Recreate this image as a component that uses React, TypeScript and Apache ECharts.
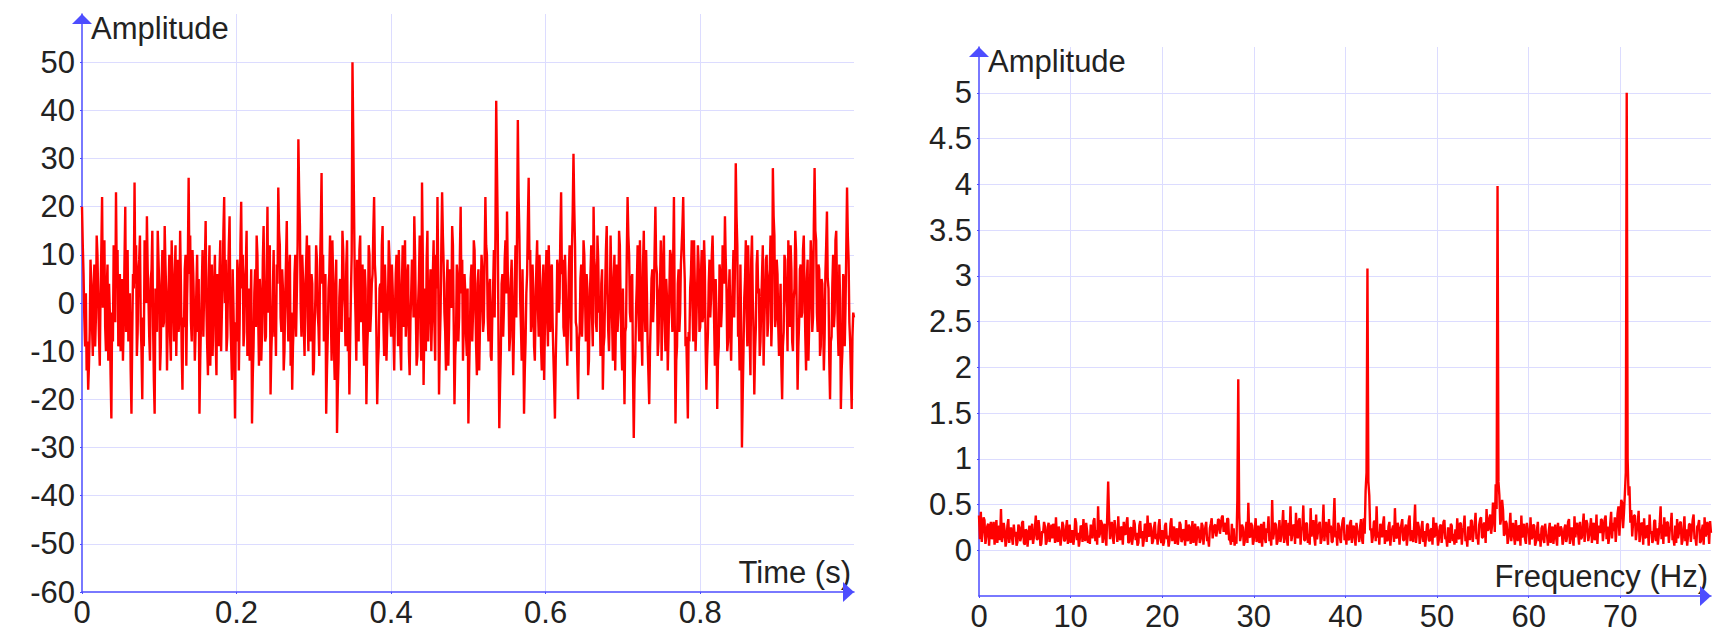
import React, { useEffect, useRef } from "react";
import * as echarts from "echarts";

// ---- data ----
const TIME_STEP = 0.001; // s between samples
const FREQ_STEP = 0.1; // Hz between spectrum bins
const TIME_MAX = 0.999;
const FREQ_MAX = 79.9;
const amplitudeName = "Amplitude";
const timeAxisName = "Time (s)";
const freqAxisName = "Frequency (Hz)";

// time-domain signal (one value per TIME_STEP, 50 values = 0.05 s per row)
const signalValues = [
  20, 12, 6, -3, -9, 2, -14, -8, -18, -13, -6, 9, 4, -5, -11, 3, 8, -9, -3, 14, 10, 1, -7, -13, 2, 11, 22, -1, 9, 13, -5, -10, 3, 8, -12, 4, -2, -15, -24, -2, -8, 12, 7, -4, 23, 5, 11, -9, -4, 6,
  -10, -1, 5, -12, -3, 9, 20, -6, 4, 11, -8, -2, 2, -14, -23, -7, 6, 3, 25, 4, 12, -11, -6, 7, 9, 14, -4, -10, -20, -3, -9, 13, 8, 0, 18, 7, 1, -7, -12, 5, 7, 15, -5, -16, -23, 3, -2, -6, 15, 9,
  3, -14, -9, 4, 11, -5, -4, 16, 8, 2, -14, -4, 2, 10, -7, -12, 13, 5, -1, -8, 6, 12, -11, -1, 9, -6, -3, 15, 4, -10, -18, -3, -5, 7, 10, -13, 1, 9, 26, 6, 14, -4, -8, 11, 6, -2, -12, -6, 3, 10,
  -6, 5, -23, -12, -4, 3, 11, -7, 2, 8, 17, -1, -9, -15, 5, 12, -13, -4, 8, -11, -2, 4, 10, -8, -15, 6, 0, -9, 7, 13, -10, -2, 4, 15, 22, 0, 9, -10, -7, 4, 12, 18, -3, -9, -16, 7, -1, -11, -24, -4,
  -8, 9, 6, -14, -4, 12, 21, 3, 10, -9, -6, 5, 8, 15, -11, -3, 3, -12, -2, 7, -25, -15, -9, 2, 7, -5, 14, 10, -3, -13, 5, 1, -12, -6, 9, 16, 1, -8, -7, 6, 20, -2, 4, 12, -19, -10, -5, 3, 11, -7,
  -2, -11, 8, 4, 24, 15, 12, -3, -6, 7, 3, -14, -10, 1, 9, 17, -1, -8, 6, 10, -13, -2, -18, -9, -4, 6, 10, -7, 2, 12, 34, 23, 16, -1, -7, 10, 5, -5, -11, 3, 8, 14, -3, -10, 12, 0, -8, 6, 4, -15,
  -14, -5, 1, 12, 9, -2, -5, -11, 7, 16, 27, 4, 10, -8, -4, 6, -23, -14, -7, 3, 6, 14, -2, -12, 13, 5, -9, -16, 3, 9, -27, -18, -12, 1, 5, -4, -6, 15, 11, 2, -1, -9, 8, 13, -10, -3, -19, -8, 2, 10,
  50, 35, 20, 4, -3, -12, 9, 2, -8, 11, 14, -4, 1, 8, -6, -13, 7, 3, -21, -10, -5, 12, 10, -6, -2, 4, 6, 15, 22, 8, 5, -7, -21, -13, -9, 3, 4, -2, 12, 16, -4, -11, 8, 2, -12, -5, 0, 13, 9, -3,
  -7, 8, 3, -6, -14, -2, 6, 10, -1, -9, 11, 3, -9, -14, 4, 12, -5, 1, 13, -7, -3, 6, 8, -10, -15, -4, 2, 9, 7, -3, 18, 10, -2, -13, -11, 0, 5, 14, -6, -12, 25, 10, -17, -6, 3, -10, 9, 15, -8, -1,
  1, 7, -10, -3, 6, 13, -4, -12, 10, 3, 22, 5, -19, -9, -2, 12, 23, 14, 8, -2, -6, -14, 4, 9, -13, -5, 7, 1, -1, 16, 12, -4, -21, -11, -7, 8, 5, -8, -3, 10, 20, 2, 9, -12, -5, 6, 2, -7, -11, 3,
  -25, -14, -6, 5, 8, -8, -2, 13, 11, 0, -9, -15, 4, 7, -14, -5, 1, 10, 7, -6, -4, 9, 22, 12, 10, -3, -8, 3, 5, -11, -12, -2, 3, 11, -3, 14, 42, 28, 15, -8, -26, -17, -10, 4, 6, -7, -1, 9, 13, 2,
  19, 6, 2, -10, -7, 5, 9, -3, -15, -6, 4, 12, -3, 15, 38, 22, 14, 1, -5, -12, 7, -4, -23, -14, -8, 2, 6, 17, 26, 9, 11, -6, -4, 8, 3, -9, -12, -1, 8, 13, -1, -7, 10, 4, -9, -14, 2, 8, -16, -5,
  5, 11, -3, -9, 12, 3, -6, 7, 8, -4, -11, -17, -24, -12, -4, 9, 7, -2, 1, 14, 23, 6, 9, -5, -7, 10, 4, -8, -13, -3, 6, 12, -2, -10, 11, 19, 31, 20, 12, -4, -5, -13, -20, -8, -6, 5, 8, -7, -1, 13,
  10, 1, -8, 6, 3, -15, -12, 0, 6, 12, -3, -9, 20, 9, 7, -4, -6, 14, 9, -2, -1, -11, 4, 7, -18, -9, -7, 3, 11, 16, 2, -6, -10, -1, 14, 5, -4, -12, 5, 10, -14, -3, 8, -6, -2, 15, 12, 0, -9, -14,
  3, -9, -21, -6, -5, 10, 22, 14, 10, -2, -4, 5, 6, -14, -28, -16, -11, -1, 4, 12, -2, -8, 13, 3, -7, -13, 8, 15, -1, -6, 11, 2, -9, -15, -21, -10, -3, 5, 7, -4, 1, 11, 20, 8, 6, -11, -8, 2, 4, 13,
  -12, -3, 9, 14, -3, -10, 5, 1, -14, -7, 2, 11, 10, -1, -6, 9, 22, -3, -25, -12, -9, 4, 7, -6, -2, 8, 12, 16, 22, 10, 5, -9, -7, -15, -24, -6, -8, 3, 6, 13, -1, -8, 13, 4, -10, -4, 3, 12, 8, -6,
  -5, 6, 11, -4, -2, 13, 7, -9, -18, -11, -6, 4, 9, -3, 1, 10, 14, 5, -4, -13, 5, -2, -22, -12, -9, 8, 6, -5, -1, 12, 10, 4, 18, 9, 3, -10, -8, 2, 7, -6, -12, -2, 4, 11, -3, 8, 29, 18, 12, -7,
  -4, -14, 8, -6, -30, -19, -10, 1, 5, 13, -2, -9, 12, 4, -7, -15, 9, 14, 1, -6, -19, -10, -5, 8, 11, 2, 3, -11, -8, 0, 6, 12, -13, -4, 2, 9, 10, -7, -4, 5, 7, 14, -9, -3, 28, 18, 14, -5, -3, 9,
  6, -5, -11, -2, 4, -13, -20, -9, -6, 10, 9, 2, -1, -10, 13, 6, -5, 12, 7, -8, -10, 1, 3, 15, 11, -4, -18, -9, -4, 7, 8, -3, -2, 11, 14, 3, -7, -14, 5, 9, -12, -5, 2, 13, 9, -6, -3, 16, 28, 15,
  13, -2, -6, 8, 7, -11, -9, 5, 4, -3, -14, -7, 6, 12, 19, 5, 3, -12, -20, -8, -7, 4, 10, -5, -2, 13, 15, 3, -5, -11, 8, 1, -22, -14, -10, 6, 5, -9, -1, 11, 24, 14, 9, -4, -8, -15, -22, -7, -2, -3,
];

// amplitude spectrum (one value per FREQ_STEP, 40 values = 4 Hz per row)
const spectrumValues = [
  0.38, 0.12, 0.42, 0.09, 0.21, 0.36, 0.33, 0.07, 0.15, 0.26, 0.29, 0.05, 0.24, 0.31, 0.12, 0.22, 0.31, 0.06, 0.19, 0.33, 0.08, 0.20, 0.27, 0.11, 0.45, 0.09, 0.16, 0.30, 0.22, 0.04, 0.10, 0.27, 0.34, 0.08, 0.18, 0.25, 0.13, 0.06, 0.28, 0.15,
  0.20, 0.05, 0.09, 0.28, 0.25, 0.10, 0.14, 0.30, 0.32, 0.08, 0.06, 0.23, 0.21, 0.04, 0.17, 0.27, 0.11, 0.19, 0.29, 0.07, 0.15, 0.24, 0.38, 0.12, 0.12, 0.33, 0.23, 0.05, 0.07, 0.21, 0.19, 0.31, 0.26, 0.06, 0.10, 0.25, 0.30, 0.09, 0.16, 0.28,
  0.13, 0.29, 0.24, 0.08, 0.36, 0.14, 0.09, 0.26, 0.20, 0.05, 0.15, 0.31, 0.27, 0.10, 0.11, 0.24, 0.33, 0.07, 0.18, 0.28, 0.08, 0.17, 0.22, 0.06, 0.14, 0.35, 0.30, 0.11, 0.19, 0.04, 0.12, 0.27, 0.25, 0.09, 0.34, 0.16, 0.10, 0.30, 0.21, 0.08,
  0.16, 0.07, 0.28, 0.19, 0.13, 0.32, 0.35, 0.10, 0.22, 0.06, 0.48, 0.14, 0.18, 0.33, 0.30, 0.08, 0.24, 0.29, 0.12, 0.05, 0.39, 0.75, 0.36, 0.12, 0.26, 0.31, 0.14, 0.07, 0.33, 0.22, 0.20, 0.09, 0.37, 0.15, 0.11, 0.26, 0.23, 0.06, 0.31, 0.18,
  0.17, 0.30, 0.36, 0.08, 0.09, 0.24, 0.25, 0.06, 0.14, 0.33, 0.29, 0.11, 0.19, 0.05, 0.08, 0.27, 0.32, 0.13, 0.21, 0.04, 0.12, 0.29, 0.27, 0.09, 0.38, 0.16, 0.15, 0.30, 0.23, 0.07, 0.10, 0.25, 0.31, 0.12, 0.18, 0.06, 0.26, 0.34, 0.13, 0.08,
  0.22, 0.05, 0.09, 0.27, 0.30, 0.12, 0.16, 0.04, 0.11, 0.29, 0.35, 0.10, 0.19, 0.26, 0.07, 0.18, 0.24, 0.06, 0.14, 0.31, 0.28, 0.09, 0.12, 0.23, 0.20, 0.05, 0.33, 0.14, 0.10, 0.28, 0.25, 0.07, 0.17, 0.32, 0.08, 0.19, 0.29, 0.05, 0.15, 0.26,
  0.21, 0.08, 0.12, 0.30, 0.27, 0.06, 0.18, 0.25, 0.31, 0.10, 0.14, 0.04, 0.24, 0.29, 0.35, 0.13, 0.19, 0.27, 0.28, 0.15, 0.22, 0.34, 0.33, 0.18, 0.26, 0.36, 0.38, 0.20, 0.30, 0.24, 0.17, 0.35, 0.34, 0.11, 0.12, 0.06, 0.29, 0.09, 0.24, 0.05,
  0.13, 0.07, 0.55, 1.87, 0.42, 0.10, 0.16, 0.28, 0.25, 0.05, 0.09, 0.22, 0.31, 0.08, 0.52, 0.15, 0.14, 0.30, 0.27, 0.06, 0.11, 0.24, 0.35, 0.09, 0.18, 0.27, 0.08, 0.14, 0.29, 0.04, 0.20, 0.31, 0.13, 0.08, 0.24, 0.19, 0.37, 0.10, 0.16, 0.05,
  0.55, 0.12, 0.19, 0.30, 0.28, 0.06, 0.10, 0.23, 0.33, 0.09, 0.15, 0.27, 0.44, 0.08, 0.21, 0.33, 0.12, 0.05, 0.30, 0.16, 0.48, 0.10, 0.17, 0.28, 0.26, 0.07, 0.41, 0.18, 0.13, 0.32, 0.35, 0.06, 0.22, 0.25, 0.49, 0.11, 0.11, 0.30, 0.29, 0.08,
  0.18, 0.06, 0.46, 0.15, 0.24, 0.33, 0.14, 0.05, 0.39, 0.12, 0.20, 0.28, 0.31, 0.07, 0.12, 0.24, 0.50, 0.10, 0.23, 0.31, 0.16, 0.06, 0.34, 0.19, 0.27, 0.09, 0.09, 0.30, 0.57, 0.14, 0.21, 0.05, 0.30, 0.26, 0.13, 0.08, 0.25, 0.33, 0.36, 0.11,
  0.17, 0.06, 0.28, 0.13, 0.11, 0.30, 0.33, 0.08, 0.22, 0.27, 0.14, 0.05, 0.30, 0.21, 0.19, 0.09, 0.26, 0.34, 0.12, 0.07, 0.35, 0.18, 0.65, 0.85, 3.08, 0.75, 0.60, 0.22, 0.24, 0.08, 0.15, 0.31, 0.32, 0.10, 0.48, 0.14, 0.20, 0.06, 0.29, 0.25,
  0.14, 0.29, 0.37, 0.07, 0.22, 0.12, 0.10, 0.26, 0.31, 0.05, 0.18, 0.23, 0.27, 0.09, 0.46, 0.15, 0.13, 0.30, 0.25, 0.06, 0.20, 0.28, 0.34, 0.11, 0.11, 0.24, 0.28, 0.05, 0.16, 0.32, 0.38, 0.10, 0.22, 0.17, 0.09, 0.27, 0.50, 0.08, 0.19, 0.31,
  0.26, 0.07, 0.13, 0.25, 0.32, 0.09, 0.21, 0.04, 0.15, 0.28, 0.29, 0.11, 0.10, 0.22, 0.24, 0.06, 0.36, 0.14, 0.17, 0.30, 0.22, 0.05, 0.12, 0.26, 0.28, 0.08, 0.19, 0.31, 0.33, 0.12, 0.14, 0.04, 0.25, 0.20, 0.08, 0.29, 0.27, 0.10, 0.18, 0.06,
  0.23, 0.08, 0.35, 0.15, 0.12, 0.30, 0.29, 0.06, 0.20, 0.25, 0.38, 0.10, 0.15, 0.04, 0.26, 0.21, 0.11, 0.33, 0.32, 0.09, 0.21, 0.27, 0.41, 0.12, 0.17, 0.06, 0.28, 0.34, 0.36, 0.14, 0.14, 0.29, 0.30, 0.08, 0.45, 0.22, 0.22, 0.35, 0.39, 0.18,
  0.27, 0.52, 0.48, 0.20, 0.72, 0.45, 3.98, 0.75, 0.60, 0.28, 0.35, 0.55, 0.44, 0.16, 0.18, 0.32, 0.29, 0.07, 0.13, 0.24, 0.41, 0.10, 0.22, 0.30, 0.15, 0.06, 0.33, 0.21, 0.10, 0.27, 0.26, 0.05, 0.38, 0.14, 0.19, 0.29, 0.12, 0.07, 0.30, 0.23,
  0.21, 0.06, 0.36, 0.12, 0.14, 0.28, 0.27, 0.05, 0.09, 0.22, 0.31, 0.10, 0.18, 0.04, 0.24, 0.27, 0.12, 0.08, 0.29, 0.16, 0.16, 0.05, 0.22, 0.30, 0.08, 0.19, 0.26, 0.07, 0.19, 0.28, 0.13, 0.05, 0.30, 0.15, 0.17, 0.26, 0.23, 0.06, 0.11, 0.24,
  0.28, 0.09, 0.15, 0.31, 0.34, 0.07, 0.20, 0.25, 0.12, 0.05, 0.37, 0.14, 0.25, 0.30, 0.18, 0.06, 0.31, 0.12, 0.14, 0.27, 0.40, 0.09, 0.22, 0.33, 0.29, 0.10, 0.16, 0.24, 0.35, 0.08, 0.24, 0.30, 0.11, 0.15, 0.39, 0.07, 0.27, 0.22, 0.19, 0.34,
  0.33, 0.10, 0.21, 0.34, 0.38, 0.12, 0.26, 0.07, 0.15, 0.29, 0.42, 0.13, 0.30, 0.21, 0.36, 0.09, 0.24, 0.40, 0.48, 0.16, 0.35, 0.55, 0.52, 0.24, 0.41, 0.62, 0.85, 5.00, 1.00, 0.60, 0.70, 0.30, 0.44, 0.15, 0.31, 0.38, 0.38, 0.11, 0.22, 0.29,
  0.43, 0.09, 0.18, 0.30, 0.29, 0.06, 0.35, 0.14, 0.14, 0.27, 0.26, 0.05, 0.39, 0.18, 0.21, 0.08, 0.12, 0.32, 0.33, 0.10, 0.24, 0.06, 0.17, 0.29, 0.48, 0.12, 0.28, 0.07, 0.36, 0.20, 0.15, 0.31, 0.30, 0.08, 0.22, 0.26, 0.41, 0.11, 0.13, 0.05,
  0.27, 0.08, 0.34, 0.13, 0.19, 0.30, 0.31, 0.06, 0.11, 0.24, 0.37, 0.10, 0.23, 0.05, 0.16, 0.28, 0.29, 0.09, 0.21, 0.33, 0.39, 0.12, 0.14, 0.05, 0.26, 0.27, 0.33, 0.08, 0.10, 0.22, 0.28, 0.06, 0.36, 0.15, 0.18, 0.31, 0.24, 0.07, 0.32, 0.19,
];

// ---- styling ----
const FONT = "'Liberation Sans', Arial, Helvetica, sans-serif";
const AXIS_BLUE = "#4d4dff";
const GRID_COLOR = "#dcdcff";
const TEXT_COLOR = "#222";
const FONT_SIZE = 31;

function makeXAxis(gridIndex: number, max: number, interval: number, name: string) {
  return {
    type: "value",
    gridIndex,
    min: 0,
    max,
    interval,
    name,
    nameLocation: "end",
    nameGap: -3,
    nameTextStyle: {
      fontFamily: FONT,
      fontSize: FONT_SIZE,
      color: TEXT_COLOR,
      align: "right",
      verticalAlign: "bottom",
      padding: [0, 0, 4, 0],
    },
    axisLine: {
      show: true,
      onZero: false,
      symbol: ["none", "triangle"],
      symbolSize: [20, 11],
      symbolOffset: [0, -5.5],
      lineStyle: { color: AXIS_BLUE, width: 1.5 },
    },
    axisTick: { show: true, length: 2, lineStyle: { color: AXIS_BLUE } },
    axisLabel: {
      fontFamily: FONT,
      fontSize: FONT_SIZE,
      lineHeight: 26,
      color: TEXT_COLOR,
      margin: 7,
      showMaxLabel: false,
    },
    splitLine: {
      show: true,
      showMinLine: false,
      showMaxLine: false,
      lineStyle: { color: GRID_COLOR, width: 1 },
    },
  };
}

function makeYAxis(
  gridIndex: number,
  min: number,
  max: number,
  interval: number,
  showMinLabel: boolean
) {
  return {
    type: "value",
    gridIndex,
    min,
    max,
    interval,
    name: amplitudeName,
    nameLocation: "end",
    nameGap: -14,
    nameTextStyle: {
      fontFamily: FONT,
      fontSize: FONT_SIZE,
      color: TEXT_COLOR,
      align: "left",
      verticalAlign: "middle",
      padding: [0, 0, 0, 9],
    },
    axisLine: {
      show: true,
      onZero: false,
      symbol: ["none", "triangle"],
      symbolSize: [20, 10],
      symbolOffset: [0, -5],
      lineStyle: { color: AXIS_BLUE, width: 1.5 },
    },
    axisTick: { show: true, length: 2, lineStyle: { color: AXIS_BLUE } },
    axisLabel: {
      fontFamily: FONT,
      fontSize: FONT_SIZE,
      color: TEXT_COLOR,
      margin: 7,
      showMinLabel,
      showMaxLabel: false,
    },
    splitLine: {
      show: true,
      showMinLine: false,
      showMaxLine: false,
      lineStyle: { color: GRID_COLOR, width: 1 },
    },
  };
}

export default function App() {
  const ref = useRef<HTMLDivElement>(null);

  useEffect(() => {
    if (!ref.current) return;
    const chart = echarts.init(ref.current, null, { renderer: "svg" });

    const signalData = signalValues.map((v, i) => [i * TIME_STEP, v]);
    const spectrumData = spectrumValues.map((v, i) => [i * FREQ_STEP, v]);

    chart.setOption({
      animation: false,
      backgroundColor: "#ffffff",
      textStyle: { fontFamily: FONT },
      grid: [
        { left: 82, top: 14, width: 772, height: 578, containLabel: false },
        { left: 979, top: 47, width: 732, height: 549, containLabel: false },
      ],
      xAxis: [
        makeXAxis(0, TIME_MAX, 0.2, timeAxisName),
        makeXAxis(1, FREQ_MAX, 10, freqAxisName),
      ],
      yAxis: [makeYAxis(0, -60, 60, 10, true), makeYAxis(1, -0.5, 5.5, 0.5, false)],
      series: [
        {
          type: "line",
          xAxisIndex: 0,
          yAxisIndex: 0,
          data: signalData,
          showSymbol: false,
          symbol: "none",
          lineStyle: { color: "#ff0000", width: 2.4 },
          itemStyle: { color: "#ff0000" },
        },
        {
          type: "line",
          xAxisIndex: 1,
          yAxisIndex: 1,
          data: spectrumData,
          showSymbol: false,
          symbol: "none",
          lineStyle: { color: "#ff0000", width: 2.4 },
          itemStyle: { color: "#ff0000" },
        },
      ],
    });

    return () => {
      chart.dispose();
    };
  }, []);

  return (
    <div
      ref={ref}
      style={{ position: "fixed", left: 0, top: 0, width: 1733, height: 632, background: "#fff" }}
    />
  );
}
